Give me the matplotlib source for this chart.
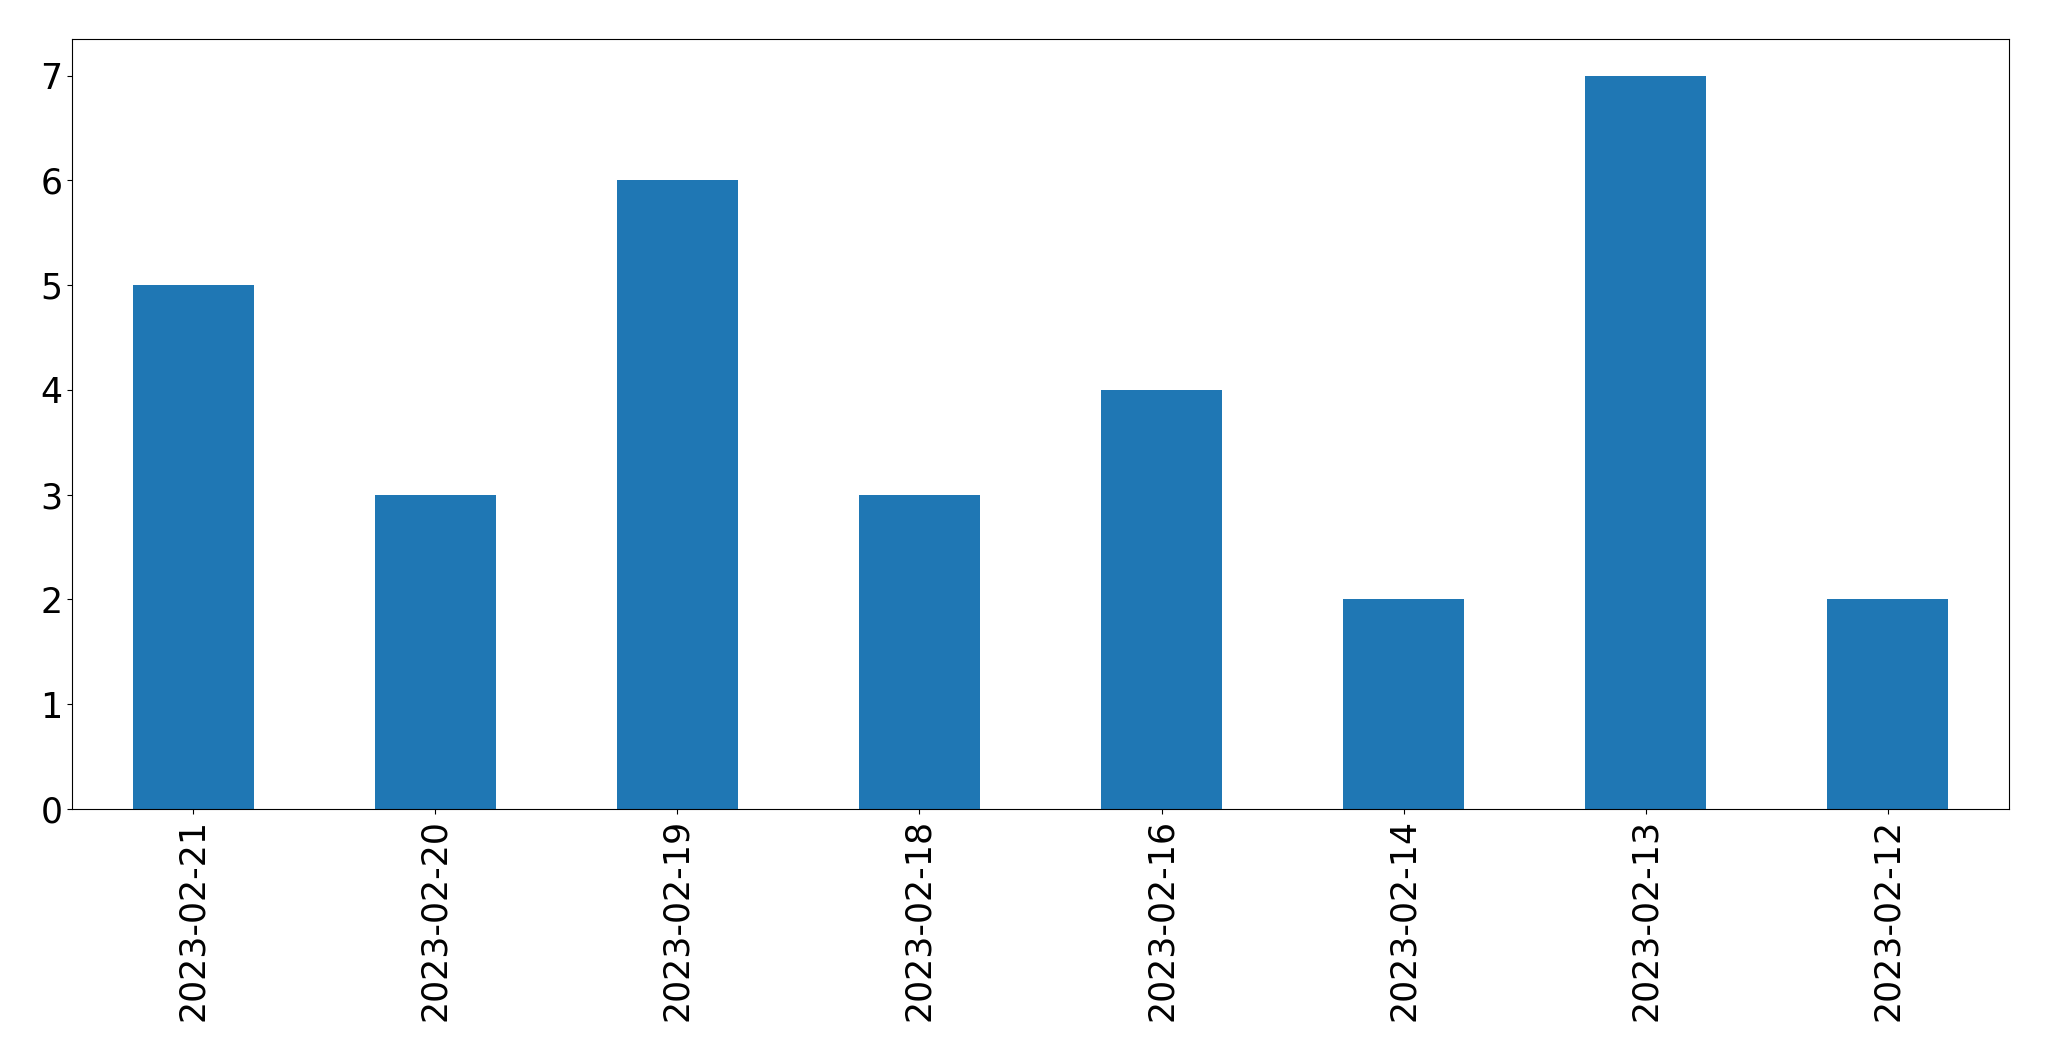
import matplotlib
matplotlib.use("Agg")
import matplotlib.pyplot as plt

dates = ["2023-02-21", "2023-02-20", "2023-02-19", "2023-02-18",
         "2023-02-16", "2023-02-14", "2023-02-13", "2023-02-12"]
counts = [5, 3, 6, 3, 4, 2, 7, 2]

fig = plt.figure(figsize=(20.49, 10.61), dpi=100)
ax = fig.add_axes([72/2049, 1 - 809/1061, (2009-72)/2049, (809-39)/1061])
x = list(range(len(dates)))
ax.bar(x, counts, width=0.5, color="#1f77b4")
ax.set_xlim(-0.5, len(dates) - 0.5)
ax.set_ylim(0, max(counts) * 1.05)
ax.set_xticks(x)
ax.set_xticklabels(dates, rotation=90)
ax.tick_params(axis="both", labelsize=25)
fig.savefig("out.png", dpi=100)
